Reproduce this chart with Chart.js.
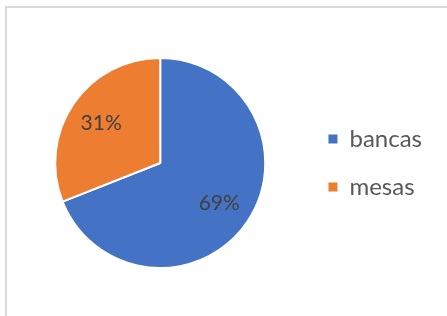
<!DOCTYPE html>
<html>
<head>
<meta charset="utf-8">
<script src="https://cdn.jsdelivr.net/npm/chart.js@4/dist/chart.umd.min.js"></script>
<style>
    html, body { margin: 0; padding: 0; background: #fff; overflow: hidden; }
    .frame {
        position: absolute; left: 5px; top: 6px;
        width: 520px; height: 400px;
        border: 2px solid #d9d9d9;
    }
    .wrap { position: absolute; left: 0; top: 0; width: 447px; height: 316px; }
</style>
</head>
<body>
<div class="frame"></div>
<div class="wrap"><canvas id="pieChart"></canvas></div>
<script>
// Data
const categories = ['bancas', 'mesas'];
const values = [69, 31];
const colors = ['#4472C4', '#ED7D31'];

const FONT = "Lato, 'Open Sans', sans-serif";

// percent labels inside the slices
const sliceLabels = {
    id: 'sliceLabels',
    afterDatasetsDraw(chart) {
        const ctx = chart.ctx;
        const meta = chart.getDatasetMeta(0);
        const total = values.reduce((a, b) => a + b, 0);
        ctx.save();
        ctx.font = '21px ' + FONT;
        ctx.fillStyle = '#404040';
        ctx.textAlign = 'center';
        ctx.textBaseline = 'middle';
        meta.data.forEach((arc, i) => {
            const p = arc.getProps(['x', 'y', 'startAngle', 'endAngle', 'outerRadius']);
            const mid = (p.startAngle + p.endAngle) / 2;
            const r = p.outerRadius * 0.68;
            const pct = Math.round(values[i] / total * 100) + '%';
            ctx.fillText(pct, p.x + Math.cos(mid) * r, p.y + Math.sin(mid) * r);
        });
        ctx.restore();
    }
};

new Chart(document.getElementById('pieChart'), {
    type: 'pie',
    data: {
        labels: categories,
        datasets: [{
            data: values,
            backgroundColor: colors,
            borderColor: '#ffffff',
            borderWidth: 2,
            radius: 105
        }]
    },
    options: {
        responsive: true,
        maintainAspectRatio: false,
        animation: false,
        events: [],
        layout: { padding: { left: 16, right: 15, top: 58, bottom: 48 } },
        plugins: {
            tooltip: { enabled: false },
            legend: {
                position: 'right',
                labels: {
                    boxWidth: 9,
                    boxHeight: 9,
                    padding: 24,
                    color: '#595959',
                    font: { family: FONT, size: 24 },
                    generateLabels(chart) {
                        const items = Chart.overrides.pie.plugins.legend.labels.generateLabels(chart);
                        items.forEach(it => { it.lineWidth = 0; });
                        return items;
                    }
                }
            }
        }
    },
    plugins: [sliceLabels]
});
</script>
</body>
</html>
